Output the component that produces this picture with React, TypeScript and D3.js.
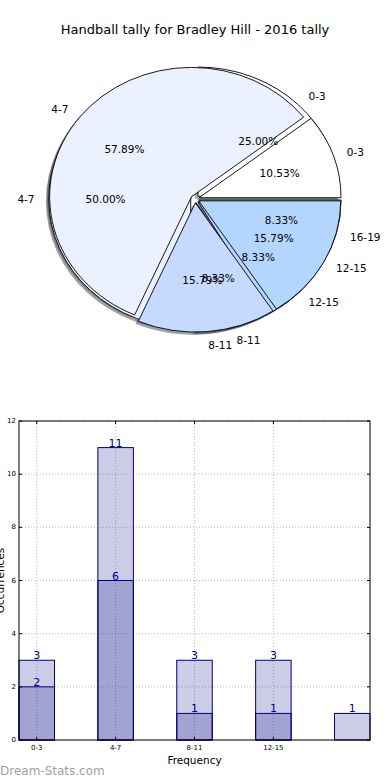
import * as React from 'react';
import * as d3 from 'd3';

// pie data (two tallies drawn on top of each other)
const pieCats = ['0-3', '4-7', '8-11', '12-15', '16-19'];
const pieBack = [3, 6, 1, 1, 1];
const pieFront = [2, 11, 3, 3];
const pieColors = ['#ffffff', '#ebf1ff', '#c6d9ff', '#b3d6ff', '#a3c9ff'];

// bar data
const barCats = ['0-3', '4-7', '8-11', '12-15', ''];
const barTotal = [3, 11, 3, 3, 1];
const barPart = [2, 6, 1, 1, 0];
const yTicks = [0, 2, 4, 6, 8, 10, 12];

const W = 390;
const H = 780;
const font = 'DejaVu Sans, sans-serif';

const cx = 195, cy = 199, R = 142, sy = 0.91, explode = 0.03;

const pieGen = d3.pie<number>().sort(null)
  .startAngle(Math.PI / 2)
  .endAngle(Math.PI / 2 - 2 * Math.PI);
const arcGen = d3.arc<d3.PieArcDatum<number>>().innerRadius(0).outerRadius(R);

const Pie = () => {
  const layers = [pieBack, pieFront].map(vals => {
    const total = d3.sum(vals);
    return pieGen(vals).map((d, i) => {
      const mid = (d.startAngle + d.endAngle) / 2;
      const ox = Math.sin(mid) * explode * R;
      const oy = -Math.cos(mid) * explode * R;
      const lr = explode * R + 1.1 * R;
      const pr = explode * R + 0.6 * R;
      return {
        d, i, ox, oy,
        path: arcGen(d) as string,
        label: pieCats[i],
        pct: (vals[i] / total * 100).toFixed(2) + '%',
        lx: cx + Math.sin(mid) * lr,
        ly: cy - Math.cos(mid) * lr * sy,
        px: cx + Math.sin(mid) * pr,
        py: cy - Math.cos(mid) * pr * sy,
        anchor: Math.sin(mid) > 0 ? 'start' : 'end',
      };
    });
  });
  const shOff = 0.02 * R;
  return (
    <g>
      <g transform={`translate(${cx},${cy}) scale(1,${sy})`}>
        {layers.map((l, k) => l.map(s => {
          const c = d3.rgb(pieColors[s.i]);
          const sc = d3.rgb(c.r * 0.3, c.g * 0.3, c.b * 0.3);
          return <path key={`s${k}-${s.i}`} d={s.path}
            transform={`translate(${s.ox - shOff},${s.oy + shOff})`}
            fill={sc.toString()} fillOpacity={0.5} />;
        }))}
        {layers.map((l, k) => l.map(s => (
          <path key={`w${k}-${s.i}`} d={s.path}
            transform={`translate(${s.ox},${s.oy})`}
            fill={pieColors[s.i]} stroke="#000" strokeWidth={0.9}
            style={{ vectorEffect: 'non-scaling-stroke' }} />
        )))}
      </g>
      {layers.map((l, k) => l.map(s => (
        <g key={`t${k}-${s.i}`} fontFamily={font} fontSize={10.5} fill="#000">
          <text x={s.lx} y={s.ly} textAnchor={s.anchor} dominantBaseline="central">{s.label}</text>
          <text x={s.px} y={s.py} textAnchor="middle" dominantBaseline="central">{s.pct}</text>
        </g>
      )))}
    </g>
  );
};

const Bars = () => {
  const left = 19, right = 370, top = 421, bottom = 740;
  const bw = 0.45;
  const x = d3.scaleLinear().domain([-bw / 2, barCats.length - 1 + bw / 2]).range([left, right]);
  const y = d3.scaleLinear().domain([0, 12]).range([bottom, top]);
  const xt = barCats.map((c, i) => ({ c, i })).filter(t => t.c !== '');
  const navy = '#000080';
  return (
    <g fontFamily={font}>
      {/* grid */}
      {yTicks.map(t => (
        <line key={'gy' + t} x1={left} x2={right} y1={y(t)} y2={y(t)}
          stroke="#bdbdbd" strokeWidth={1} strokeDasharray="1,2" />
      ))}
      {xt.map(t => (
        <line key={'gx' + t.i} x1={x(t.i)} x2={x(t.i)} y1={top} y2={bottom}
          stroke="#bdbdbd" strokeWidth={1} strokeDasharray="1,2" />
      ))}
      {/* bars */}
      {[barTotal, barPart].map((vals, k) => vals.map((v, i) => v > 0 && (
        <rect key={`b${k}-${i}`} x={x(i - bw / 2)} width={x(bw) - x(0)}
          y={y(v)} height={y(0) - y(v)}
          fill={navy} fillOpacity={0.2} stroke={navy} strokeWidth={1} />
      )))}
      {[barTotal, barPart].map((vals, k) => vals.map((v, i) => v > 0 && (
        <text key={`l${k}-${i}`} x={x(i)} y={y(v) - 1} textAnchor="middle"
          fontSize={11} fill="#00008b">{v}</text>
      )))}
      {/* frame */}
      <rect x={left} y={top} width={right - left} height={bottom - top}
        fill="none" stroke="#000" strokeWidth={1} />
      {yTicks.map(t => (
        <g key={'ty' + t}>
          <line x1={left} x2={left + 3} y1={y(t)} y2={y(t)} stroke="#000" />
          <line x1={right - 3} x2={right} y1={y(t)} y2={y(t)} stroke="#000" />
          <text x={left - 3} y={y(t)} textAnchor="end" dominantBaseline="central"
            fontSize={7} fill="#000">{t}</text>
        </g>
      ))}
      {xt.map(t => (
        <g key={'tx' + t.i}>
          <line x1={x(t.i)} x2={x(t.i)} y1={bottom} y2={bottom - 3} stroke="#000" />
          <line x1={x(t.i)} x2={x(t.i)} y1={top} y2={top + 3} stroke="#000" />
          <text x={x(t.i)} y={bottom + 10} textAnchor="middle" fontSize={7} fill="#000">{t.c}</text>
        </g>
      ))}
      <text x={(left + right) / 2} y={764} textAnchor="middle" fontSize={10.5} fill="#000">Frequency</text>
      <text transform={`translate(4,${(top + bottom) / 2}) rotate(-90)`} textAnchor="middle"
        fontSize={10.5} fill="#000">Occurrences</text>
    </g>
  );
};

export default function App() {
  return (
    <svg width={W} height={H} style={{ position: 'absolute', left: 0, top: 0, background: '#fff' }}>
      <rect width={W} height={H} fill="#fff" />
      <text x={195} y={34} textAnchor="middle" fontFamily={font} fontSize={13} fill="#000">
        Handball tally for Bradley Hill - 2016 tally
      </text>
      <Pie />
      <Bars />
      <text x={0} y={775} fontFamily={font} fontSize={12} fill="#a0a0a0">Dream-Stats.com</text>
    </svg>
  );
}
